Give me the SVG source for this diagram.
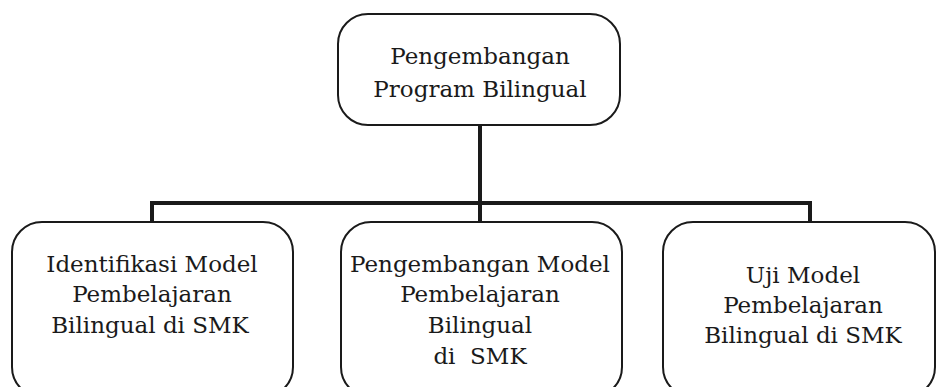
<svg xmlns="http://www.w3.org/2000/svg" width="937" height="387" viewBox="0 0 937 387">
<style>
.box{fill:#fff;stroke:#1a1a1a;stroke-width:2}
.t{font-family:'DejaVu Serif',serif;font-size:23px;fill:#1a1a1a;text-anchor:middle}
.c{fill:none;stroke:#1a1a1a;stroke-width:4}
</style>
<rect width="937" height="387" fill="#fff"/>
<g id="connectors">
<path class="c" d="M480 125V203M152 222V203H810V222M480 203V222"/>
</g>
<g id="top">
<rect class="box" x="338" y="14" width="282" height="111" rx="30"/>
<text class="t" x="480" y="64">Pengembangan</text>
<text class="t" x="480" y="97">Program Bilingual</text>
</g>
<g id="left">
<rect class="box" x="12" y="222" width="281" height="175" rx="30"/>
<text class="t" x="152" y="272">Identifikasi Model</text>
<text class="t" x="152" y="302">Pembelajaran</text>
<text class="t" x="150" y="333">Bilingual di SMK</text>
</g>
<g id="middle">
<rect class="box" x="341" y="222" width="281" height="175" rx="30"/>
<text class="t" x="480" y="272">Pengembangan Model</text>
<text class="t" x="480" y="302">Pembelajaran</text>
<text class="t" x="480" y="333">Bilingual</text>
<text class="t" x="480" y="364" xml:space="preserve">di  SMK</text>
</g>
<g id="right">
<rect class="box" x="663" y="222" width="272" height="175" rx="30"/>
<text class="t" x="803" y="283">Uji Model</text>
<text class="t" x="803" y="313">Pembelajaran</text>
<text class="t" x="803" y="343">Bilingual di SMK</text>
</g>
</svg>
